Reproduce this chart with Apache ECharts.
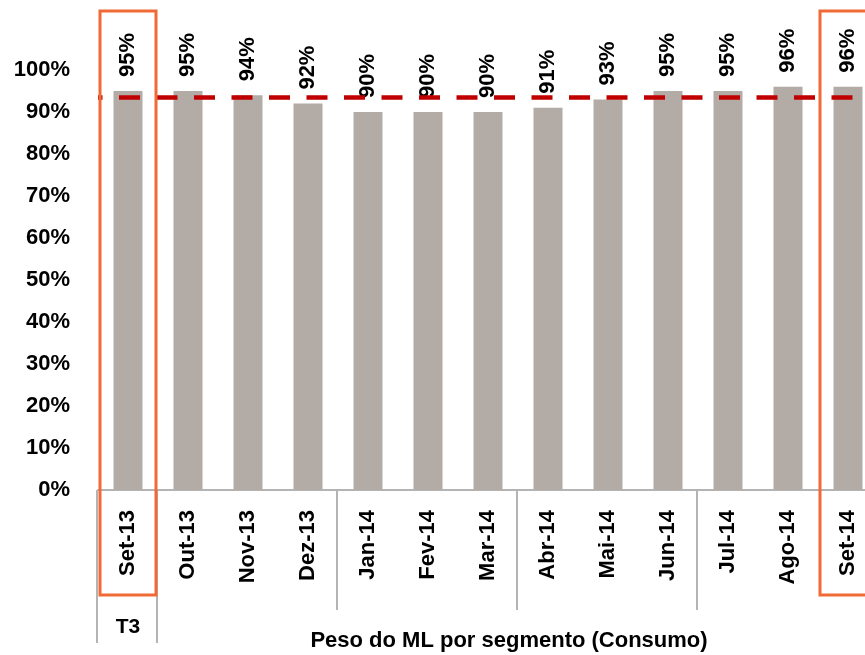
<!DOCTYPE html>
<html>
<head>
<meta charset="utf-8">
<script src="https://cdn.jsdelivr.net/npm/echarts@6/dist/echarts.min.js"></script>
<style>
html,body{margin:0;padding:0;background:#fff;overflow:hidden;width:865px;height:655px;}
#main{width:880px;height:655px;}
</style>
</head>
<body>
<div id="main"></div>
<script>
var categories = ['Set-13','Out-13','Nov-13','Dez-13','Jan-14','Fev-14','Mar-14','Abr-14','Mai-14','Jun-14','Jul-14','Ago-14','Set-14'];
var values = [95,95,94,92,90,90,90,91,93,95,95,96,96];
var targetLine = 93.5;
var yTicks = [0,10,20,30,40,50,60,70,80,90,100];
var groupBoundaries = [1,4,7,10];
var highlighted = [0,12];
var groupLabel = 'T3';
var axisTitle = 'Peso do ML por segmento (Consumo)';

var FONT = '"Liberation Sans", Arial, sans-serif';
var chart = echarts.init(document.getElementById('main'), null, {renderer:'canvas'});

chart.setOption({
  backgroundColor:'#ffffff',
  animation:false,
  grid:{left:98, top:70, width:780, bottom:165, containLabel:false},
  xAxis:{
    type:'category',
    data:categories,
    axisLine:{show:true, lineStyle:{color:'#b4b4b4', width:2}},
    axisTick:{show:false},
    axisLabel:{rotate:90, margin:20, fontFamily:FONT, fontWeight:'bold', fontSize:22, color:'#000'}
  },
  yAxis:{
    type:'value', min:0, max:100, interval:10,
    axisLine:{show:false}, axisTick:{show:false}, splitLine:{show:false},
    axisLabel:{margin:28, fontFamily:FONT, fontWeight:'bold', fontSize:22, color:'#000',
      formatter:function(v){return yTicks.indexOf(v)>=0 ? v+'%' : '';}}
  },
  series:[{
    type:'bar',
    data:values,
    barWidth:29,
    itemStyle:{color:'#b3aba5'},
    label:{show:true, position:'top', rotate:90, align:'left', verticalAlign:'middle', distance:14,
      fontFamily:FONT, fontWeight:'bold', fontSize:22, color:'#000',
      formatter:function(p){return p.value+'%';}},
    markLine:{
      silent:true, symbol:'none',
      label:{show:false},
      lineStyle:{color:'#c00000', width:4.5, type:[21,16.5], dashOffset:16.5},
      data:[{yAxis:targetLine}]
    }
  }]
});

function px(i){ return chart.convertToPixel({xAxisIndex:0}, categories[i]); }
var band = px(1)-px(0);
var y0 = chart.convertToPixel({yAxisIndex:0}, 0);
var g = [];
var left0 = px(0)-band/2;
g.push({type:'line', shape:{x1:left0-1, y1:y0, x2:left0-1, y2:643}, style:{stroke:'#b4b4b4', lineWidth:2}, z:5});
groupBoundaries.forEach(function(i){
  var x = px(i)-band/2;
  var y2 = (i===1) ? 643 : 610;
  g.push({type:'line', shape:{x1:x-1, y1:y0, x2:x-1, y2:y2}, style:{stroke:'#b4b4b4', lineWidth:2}, z:5});
});
highlighted.forEach(function(i){
  var c = px(i);
  g.push({type:'rect', shape:{x:c-28, y:11, width:56, height:584}, style:{fill:'none', stroke:'#f06a35', lineWidth:3}, z:10});
});
g.push({type:'text', x:px(0), y:627, style:{text:groupLabel, fill:'#000', font:'bold 21px '+FONT, textAlign:'center', textVerticalAlign:'middle'}});
g.push({type:'text', x:509, y:641, style:{text:axisTitle, fill:'#000', font:'bold 22px '+FONT, textAlign:'center', textVerticalAlign:'middle'}});
chart.setOption({graphic:g});
</script>
</body>
</html>
